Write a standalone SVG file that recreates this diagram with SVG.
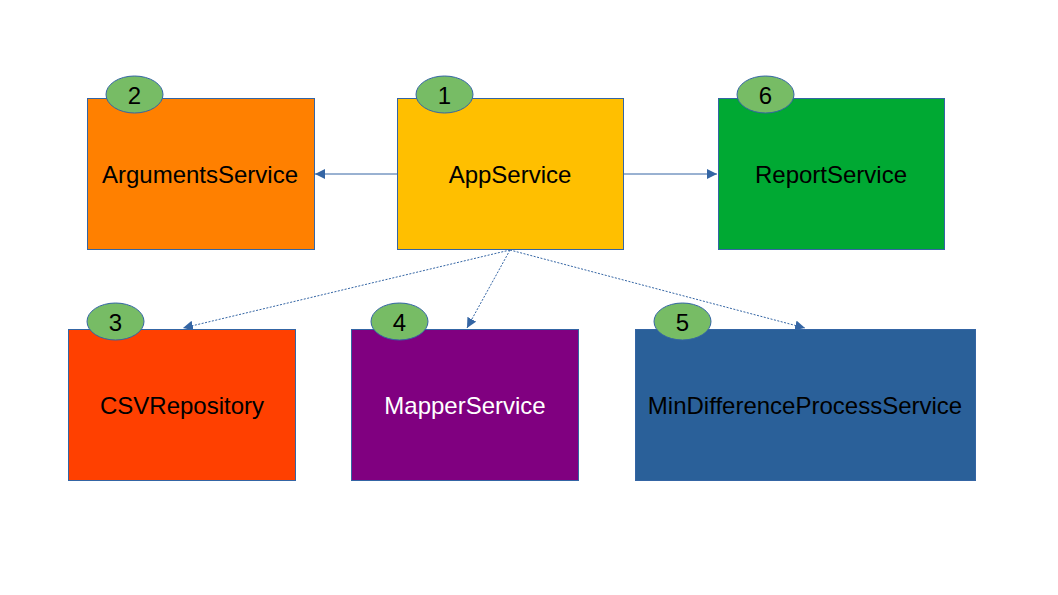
<svg xmlns="http://www.w3.org/2000/svg" width="1058" height="595" viewBox="0 0 1058 595">
<style>
.box{stroke:#3465A4;stroke-width:1}
.badge{fill:#77BC65;stroke:#3465A4;stroke-width:1}
.lbl{font-family:"Liberation Sans",Arial,sans-serif;font-size:24px;text-anchor:middle;fill:#000}
.num{font-family:"Liberation Sans",Arial,sans-serif;font-size:24px;text-anchor:middle;fill:#000}
.solid{stroke:#3465A4;stroke-width:1;fill:none}
.dot{stroke:#3465A4;stroke-width:1;fill:none;stroke-dasharray:2 1.5}
</style>
<defs>
<marker id="ah" viewBox="0 0 10 10" refX="10" refY="5" markerWidth="10" markerHeight="10" markerUnits="userSpaceOnUse" orient="auto">
<path d="M0,0 L10,5 L0,10 Z" fill="#3465A4"/>
</marker>
</defs>
<rect width="1058" height="595" fill="#fff"/>
<g id="connectors">
<line class="solid" x1="397" y1="174" x2="315" y2="174" marker-end="url(#ah)"/>
<line class="solid" x1="623" y1="174" x2="717" y2="174" marker-end="url(#ah)"/>
<line class="dot" x1="510" y1="250" x2="183" y2="328" marker-end="url(#ah)"/>
<line class="dot" x1="510" y1="250" x2="467" y2="328" marker-end="url(#ah)"/>
<line class="dot" x1="510" y1="250" x2="805" y2="328" marker-end="url(#ah)"/>
</g>
<g id="node-arguments">
<rect class="box" x="87.5" y="98.5" width="227" height="151" fill="#FF8000"/>
<ellipse class="badge" cx="134.5" cy="94.5" rx="28.5" ry="18.5"/>
<text class="num" x="134.5" y="103.5">2</text>
<text class="lbl" x="200" y="182.5">ArgumentsService</text>
</g>
<g id="node-app">
<rect class="box" x="397.5" y="98.5" width="226" height="151" fill="#FFBF00"/>
<ellipse class="badge" cx="444.5" cy="94.5" rx="28.5" ry="18.5"/>
<text class="num" x="444.5" y="103.5">1</text>
<text class="lbl" x="510" y="182.5">AppService</text>
</g>
<g id="node-report">
<rect class="box" x="718.5" y="98.5" width="226" height="151" fill="#00A933"/>
<ellipse class="badge" cx="765.5" cy="94.5" rx="28.5" ry="18.5"/>
<text class="num" x="765.5" y="103.5">6</text>
<text class="lbl" x="831" y="182.5">ReportService</text>
</g>
<g id="node-csv">
<rect class="box" x="68.5" y="329.5" width="227" height="151" fill="#FF4000"/>
<ellipse class="badge" cx="115.5" cy="321.5" rx="28.5" ry="18.5"/>
<text class="num" x="115.5" y="330.5">3</text>
<text class="lbl" x="182" y="413.5">CSVRepository</text>
</g>
<g id="node-mapper">
<rect class="box" x="351.5" y="329.5" width="227" height="151" fill="#800080"/>
<ellipse class="badge" cx="399.5" cy="321.5" rx="28.5" ry="18.5"/>
<text class="num" x="399.5" y="330.5">4</text>
<text class="lbl" x="465" y="413.5" style="fill:#fff">MapperService</text>
</g>
<g id="node-mindiff">
<rect class="box" x="635.5" y="329.5" width="340" height="151" fill="#2A6099"/>
<ellipse class="badge" cx="682.5" cy="321.5" rx="28.5" ry="18.5"/>
<text class="num" x="682.5" y="330.5">5</text>
<text class="lbl" x="805" y="413.5">MinDifferenceProcessService</text>
</g>
</svg>
